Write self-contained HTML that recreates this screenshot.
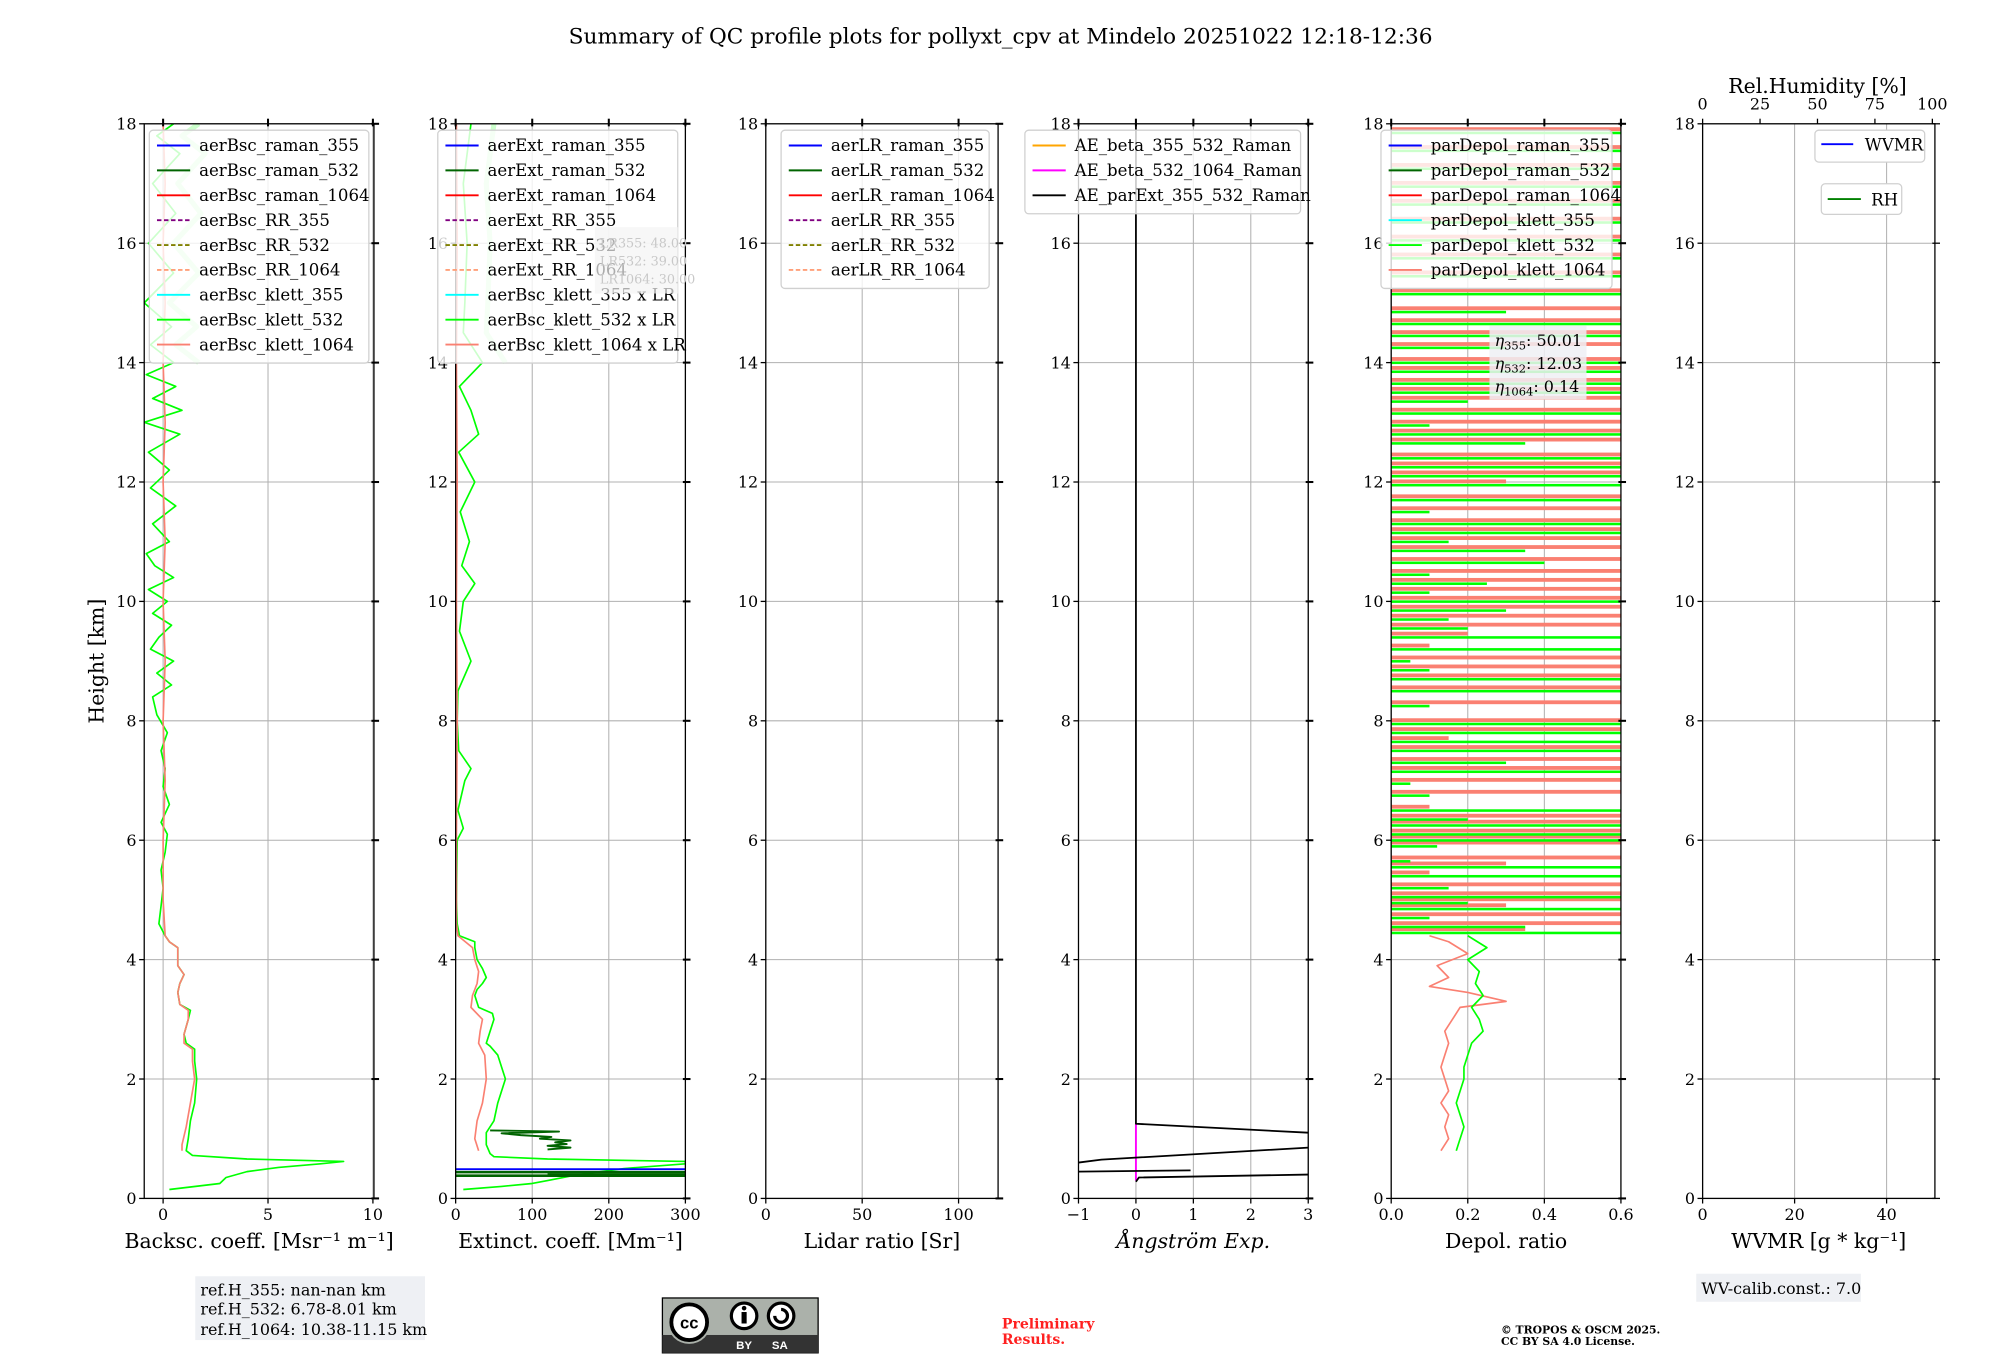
<!DOCTYPE html>
<html><head><meta charset="utf-8"><style>
html,body{margin:0;padding:0;background:#fff;}
svg{display:block;font-family:"DejaVu Serif","Liberation Serif",serif;}
</style></head><body>
<svg id="fig" xmlns="http://www.w3.org/2000/svg" width="2000" height="1360" viewBox="0 0 1567 1065.6" preserveAspectRatio="none">
<text x="784" y="34" font-size="17" text-anchor="middle">Summary of QC profile plots for pollyxt_cpv at Mindelo 20251022 12:18-12:36</text>
<text transform="translate(81,518) rotate(-90)" font-size="16" text-anchor="middle">Height [km]</text>
<g id="plots"></g>
<g>
<rect x="153" y="1000" width="180" height="50" fill="#eef0f4"/>
<text x="157" y="1015" font-size="12.5">ref.H_355: nan-nan km</text>
<text x="157" y="1030" font-size="12.5">ref.H_532: 6.78-8.01 km</text>
<text x="157" y="1046" font-size="12.5">ref.H_1064: 10.38-11.15 km</text>
</g>
<g>
<rect x="519" y="1017" width="122" height="43" fill="#abb1aa" stroke="#000" stroke-width="1"/>
<rect x="519" y="1046" width="122" height="14" fill="#333"/>
<circle cx="540" cy="1036" r="17" fill="#abb1aa"/>
<circle cx="540" cy="1036" r="14" fill="#fff" stroke="#000" stroke-width="3"/>
<text x="540" y="1041" font-size="13" font-weight="bold" text-anchor="middle" font-family="Liberation Sans,sans-serif">cc</text>
<circle cx="583" cy="1031" r="10" fill="#fff" stroke="#000" stroke-width="2.5"/>
<rect x="581" y="1028" width="4" height="9" fill="#000"/><circle cx="583" cy="1025" r="1.8" fill="#000"/>
<circle cx="612" cy="1031" r="10" fill="#fff" stroke="#000" stroke-width="2.5"/>
<path d="M607 1031 a5 5 0 1 0 5 -5" fill="none" stroke="#000" stroke-width="2.5"/>
<text x="583" y="1057" font-size="9" fill="#fff" font-weight="bold" text-anchor="middle" font-family="Liberation Sans,sans-serif">BY</text>
<text x="611" y="1057" font-size="9" fill="#fff" font-weight="bold" text-anchor="middle" font-family="Liberation Sans,sans-serif">SA</text>
</g>
<text x="785" y="1041" font-size="11" fill="#ff2020" font-weight="bold">Preliminary</text>
<text x="785" y="1053" font-size="11" fill="#ff2020" font-weight="bold">Results.</text>
<text x="1176" y="1045" font-size="8.5" font-weight="bold">© TROPOS &amp; OSCM 2025.</text>
<text x="1176" y="1054" font-size="8.5" font-weight="bold">CC BY SA 4.0 License.</text>
<g>
<rect x="1329" y="998" width="129" height="22" fill="#eef0f4"/>
<text x="1333" y="1014" font-size="12.5">WV-calib.const.: 7.0</text>
</g>
</svg>
<script>
// ---------- data ----------
const heightTicks=[0,2,4,6,8,10,12,14,16,18];
const bsc532H=[0.15,0.25,0.35,0.45,0.52,0.58,0.62,0.66,0.72,0.8,1.0,1.3,1.6,2.0,2.3,2.5,2.6,2.75,3.0,3.15,3.25,3.45,3.6,3.75,3.9,4.0,4.2,4.3,4.4,4.6,4.9,5.2,5.5,5.8,6.1,6.3,6.6,6.9,7.2,7.5,7.8,8.1,8.4,8.6,8.8,9.0,9.2,9.4,9.6,9.8,10.0,10.2,10.4,10.6,10.8,11.0,11.3,11.6,11.9,12.2,12.5,12.8,13.0,13.2,13.4,13.6,13.8,14.0,14.3,14.6,15.0,15.5,16.0,16.5,17.0,17.5,17.8,18.0];
const bsc532V=[0.3,2.7,3.0,4.0,5.5,7.5,8.6,4.0,1.4,1.1,1.2,1.3,1.5,1.6,1.5,1.5,1.1,1.0,1.2,1.3,0.8,0.7,0.8,1.0,0.7,0.7,0.7,0.3,0.1,-0.2,-0.1,0.0,-0.1,0.1,0.2,-0.1,0.3,0.0,0.1,-0.1,0.2,-0.3,-0.5,0.4,-0.3,0.5,-0.6,-0.2,0.4,-0.5,0.2,-0.7,0.5,-0.4,-0.8,0.3,-0.5,0.6,-0.6,0.3,-0.7,0.8,-0.9,0.9,-0.5,0.6,-0.8,0.5,-0.6,0.4,-0.9,0.5,-0.7,0.6,-0.5,0.8,-0.3,0.5];
const bsc1064H=[0.8,0.9,1.2,1.6,2.0,2.3,2.5,2.6,2.75,3.0,3.15,3.25,3.45,3.6,3.75,3.9,4.2,4.3,4.4,5,6,7,8,9,10,11,12,13,14,15,16,17,18];
const bsc1064V=[0.9,0.9,1.1,1.3,1.5,1.4,1.4,1.0,1.0,1.2,1.2,0.8,0.7,0.8,1.0,0.7,0.7,0.3,0.1,0.0,0.0,0.1,0.0,0.1,0.0,0.1,0.0,0.1,0.0,0.1,0.0,0.1,0.0];
const ext532H=[0.15,0.2,0.25,0.3,0.4,0.5,0.58,0.62,0.66,0.7,0.75,0.9,1.1,1.3,1.6,2.0,2.2,2.4,2.55,2.6,2.8,3.0,3.1,3.2,3.4,3.5,3.6,3.7,3.85,4.0,4.2,4.3,4.4,4.6,5,6.0,6.2,6.5,7.0,7.2,7.5,8.0,8.5,9.0,9.5,10.0,10.3,10.6,11.0,11.5,12.0,12.5,12.8,13.2,13.6,14.0,14.5,15,16,17,18];
const ext532V=[10,60,100,120,160,220,300,300,120,50,45,40,40,50,55,65,60,55,45,40,45,50,48,30,25,28,35,40,35,28,25,25,5,2,1,2,10,3,12,20,4,2,3,20,5,10,25,8,18,6,25,4,30,20,5,35,10,12,15,10,20];
const ext1064H=[0.8,1.0,1.3,1.6,2.0,2.4,2.6,2.8,3.0,3.2,3.4,3.6,3.8,4.0,4.2,4.4,4.6,6,8,10,12,14,16,18];
const ext1064V=[30,25,28,35,40,38,30,32,35,20,22,28,30,25,22,3,1,1,2,1,2,1,2,1];
const extRaman532H=[0.82,0.85,0.88,0.91,0.94,0.97,1.0,1.03,1.06,1.09,1.12,1.14];
const extRaman532V=[120,150,120,145,130,150,110,125,85,60,135,45];
const aeSeg1H=[0.28,0.35,0.4], aeSeg1V=[0,0.05,3.0];
const aeSeg2H=[0.45,0.47], aeSeg2V=[-1,0.95];
const aeSeg3H=[0.6,0.65,0.85], aeSeg3V=[-1,-0.6,3.0];
const aeSeg4H=[18,1.25,1.1], aeSeg4V=[0,0,3.0];
const dep532H=[0.8,1.0,1.2,1.4,1.6,1.8,2.0,2.2,2.4,2.6,2.8,3.0,3.2,3.4,3.6,3.8,4.0,4.2,4.4];
const dep532V=[0.17,0.18,0.19,0.18,0.17,0.18,0.19,0.19,0.2,0.21,0.24,0.23,0.21,0.24,0.22,0.23,0.2,0.25,0.2];
const dep1064H=[0.8,1.0,1.2,1.4,1.6,1.8,2.0,2.2,2.4,2.6,2.8,3.0,3.2,3.3,3.45,3.55,3.7,3.9,4.1,4.3,4.4];
const dep1064V=[0.13,0.15,0.14,0.15,0.13,0.15,0.14,0.13,0.14,0.15,0.14,0.16,0.18,0.3,0.2,0.1,0.15,0.12,0.2,0.15,0.1];
const depNoiseH=[4.5,4.6,4.75,4.9,5.0,5.1,5.25,5.45,5.6,5.7,5.95,6.05,6.15,6.3,6.4,6.55,6.8,7.0,7.2,7.35,7.55,7.7,7.85,8.0,8.3,8.55,8.75,8.9,9.05,9.25,9.45,9.6,9.75,9.9,10.05,10.2,10.35,10.5,10.7,10.9,11.05,11.2,11.35,11.55,11.75,12.0,12.15,12.3,12.45,12.7,12.85,13.0,13.2,13.4,13.55,13.7,13.9,14.05,14.3,14.5,14.7,14.9,15.2,15.5,15.8,16.1,16.4,16.7,17.0,17.3,17.6,17.9];
const depNoise532V=[0.6,0.35,0.1,0.6,0.2,0.6,0.15,0.6,0.6,0.05,0.12,0.6,0.6,0.6,0.2,0.6,0.1,0.05,0.6,0.3,0.6,0.6,0.6,0.6,0.1,0.6,0.6,0.1,0.05,0.6,0.6,0.2,0.15,0.3,0.6,0.1,0.25,0.1,0.4,0.35,0.15,0.6,0.6,0.1,0.6,0.6,0.6,0.6,0.6,0.35,0.6,0.1,0.6,0.2,0.6,0.6,0.6,0.6,0.3,0.6,0.6,0.3,0.6,0.6,0.6,0.6,0.6,0.6,0.6,0.6,0.6,0.6];
const depNoise1064V=[0.35,0.6,0.6,0.3,0.6,0.6,0.6,0.1,0.3,0.6,0.6,0.6,0.6,0.6,0.6,0.1,0.6,0.6,0.6,0.6,0.6,0.15,0.6,0.6,0.6,0.6,0.6,0.6,0.6,0.1,0.2,0.6,0.6,0.6,0.6,0.6,0.6,0.6,0.6,0.6,0.6,0.6,0.6,0.6,0.6,0.3,0.6,0.6,0.6,0.6,0.6,0.6,0.6,0.6,0.6,0.6,0.6,0.6,0.6,0.6,0.6,0.6,0.6,0.6,0.6,0.6,0.6,0.6,0.6,0.6,0.6,0.6];
const panelNames=['backscatter','extinction','lidar-ratio','angstrom','depol','wvmr'];
const xMins=[-0.9,0,0,-1,0,0], xMaxs=[10.05,300,120.5,3,0.6,50.5];
const xTickVals=[[0,5,10],[0,100,200,300],[0,50,100],[-1,0,1,2,3],[0,0.2,0.4,0.6],[0,20,40]];
const xTickLabels=[['0','5','10'],['0','100','200','300'],['0','50','100'],['−1','0','1','2','3'],['0.0','0.2','0.4','0.6'],['0','20','40']];
const xTitles=['Backsc. coeff. [Msr⁻¹ m⁻¹]','Extinct. coeff. [Mm⁻¹]','Lidar ratio [Sr]','Ångström Exp.','Depol. ratio','WVMR [g * kg⁻¹]'];
const rhTicks=[0,25,50,75,100];
const legendEntries=[
 [['aerBsc_raman_355','#0000ff',0],['aerBsc_raman_532','#006400',0],['aerBsc_raman_1064','#ff0000',0],['aerBsc_RR_355','#800080',1],['aerBsc_RR_532','#808000',1],['aerBsc_RR_1064','#ffa07a',1],['aerBsc_klett_355','#00ffff',0],['aerBsc_klett_532','#00ff00',0],['aerBsc_klett_1064','#fa8072',0]],
 [['aerExt_raman_355','#0000ff',0],['aerExt_raman_532','#006400',0],['aerExt_raman_1064','#ff0000',0],['aerExt_RR_355','#800080',1],['aerExt_RR_532','#808000',1],['aerExt_RR_1064','#ffa07a',1],['aerBsc_klett_355 x LR','#00ffff',0],['aerBsc_klett_532 x LR','#00ff00',0],['aerBsc_klett_1064 x LR','#fa8072',0]],
 [['aerLR_raman_355','#0000ff',0],['aerLR_raman_532','#006400',0],['aerLR_raman_1064','#ff0000',0],['aerLR_RR_355','#800080',1],['aerLR_RR_532','#808000',1],['aerLR_RR_1064','#ffa07a',1]],
 [['AE_beta_355_532_Raman','#ffa500',0],['AE_beta_532_1064_Raman','#ff00ff',0],['AE_parExt_355_532_Raman','#000000',0]],
 [['parDepol_raman_355','#0000ff',0],['parDepol_raman_532','#006400',0],['parDepol_raman_1064','#ff0000',0],['parDepol_klett_355','#00ffff',0],['parDepol_klett_532','#00ff00',0],['parDepol_klett_1064','#fa8072',0]]
];
const NS='http://www.w3.org/2000/svg';
const root=document.getElementById('plots');
const panelLeft=[113,357,600,845,1090,1334], panelW=[180,180,182,180,180,182];
const TOP=97,BOT=939;
function yS(h){return BOT-(h/18)*(BOT-TOP);}
function mk(tag,parent){const e=document.createElementNS(NS,tag);parent.appendChild(e);return e;}
function xS(p,v){return panelLeft[p]+(v-xMins[p])/(xMaxs[p]-xMins[p])*panelW[p];}
function clipX(p,v){return Math.max(xMins[p],Math.min(xMaxs[p],v));}
function line(g,p,H,V,col,w,name){
  const pl=mk('polyline',g);
  
  
  pl.setAttribute('points',H.map((h,i)=>xS(p,clipX(p,V[i])).toFixed(1)+','+yS(h).toFixed(1)).join(' '));
  pl.setAttribute('fill','none');pl.setAttribute('stroke',col);pl.setAttribute('stroke-width',w);
  pl.setAttribute('stroke-linejoin','round');
  return pl;
}
function txt(g,x,y,s,size,anchor,fill){const t=mk('text',g);t.setAttribute('x',x);t.setAttribute('y',y);t.setAttribute('font-size',size);if(anchor)t.setAttribute('text-anchor',anchor);if(fill)t.setAttribute('fill',fill);t.textContent=s;return t;}

for(let p=0;p<6;p++){
  const g=mk('g',root);
  
  
  const L=panelLeft[p],R=L+panelW[p];
  const cp=mk('clipPath',g);cp.setAttribute('id','clip'+p);
  const cr=mk('rect',cp);cr.setAttribute('x',L);cr.setAttribute('y',TOP);cr.setAttribute('width',panelW[p]);cr.setAttribute('height',BOT-TOP);
  heightTicks.forEach(h=>{const l=mk('line',g);l.setAttribute('x1',L);l.setAttribute('x2',R);l.setAttribute('y1',yS(h));l.setAttribute('y2',yS(h));l.setAttribute('stroke','#b0b0b0');l.setAttribute('stroke-width',0.8);});
  xTickVals[p].forEach(v=>{const x=xS(p,v);const l=mk('line',g);l.setAttribute('x1',x);l.setAttribute('x2',x);l.setAttribute('y1',TOP);l.setAttribute('y2',BOT);l.setAttribute('stroke','#b0b0b0');l.setAttribute('stroke-width',0.8);});
  const data=mk('g',g);data.setAttribute('clip-path','url(#clip'+p+')');
  
  
  if(p===0){
    const hi=bsc532H.map((h,i)=>i).filter(i=>bsc532H[i]>=14);
    line(data,0,hi.map(i=>bsc532H[i]),hi.map(i=>bsc532V[i]+1.2),'#ccffcc',4,'bsc-upper-shade');
    line(data,0,bsc532H,bsc532V,'#00ff00',1.3,'bsc-klett-532');
    line(data,0,bsc1064H,bsc1064V,'#fa8072',1.3,'bsc-klett-1064');
  }
  if(p===1){
    const hi=ext532H.map((h,i)=>i).filter(i=>ext532H[i]>=14);
    line(data,1,hi.map(i=>ext532H[i]),hi.map(i=>ext532V[i]+30),'#ccffcc',4,'ext-upper-shade');
    line(data,1,ext532H,ext532V,'#00ff00',1.3,'ext-klett-532');
    line(data,1,ext1064H,ext1064V,'#fa8072',1.3,'ext-klett-1064');
    line(data,1,extRaman532H,extRaman532V,'#006400',1.5,'ext-raman-532');
    line(data,1,[0.38,0.38,0.4,0.4],[0,300,300,120],'#006400',2,'ext-raman-532-low');
    line(data,1,[0.44,0.44,0.46],[0,300,300],'#006400',2,'ext-raman-532-low2');
    line(data,1,[0.49,0.49],[0,300],'#0000ff',1.5,'ext-raman-355');
  }
  if(p===3){
    line(data,3,[0.3,1.25],[0,0],'#ff00ff',1.5,'ae-beta-532-1064');
    line(data,3,aeSeg1H,aeSeg1V,'#000',1.4,'ae-parext-seg1');
    line(data,3,aeSeg2H,aeSeg2V,'#000',1.4,'ae-parext-seg2');
    line(data,3,aeSeg3H,aeSeg3V,'#000',1.4,'ae-parext-seg3');
    line(data,3,aeSeg4H,aeSeg4V,'#000',1.4,'ae-parext-seg4');
  }
  if(p===4){
    depNoiseH.forEach((h,i)=>{
      const r=mk('rect',data);
      
      
      r.setAttribute('x',xS(4,0));r.setAttribute('y',yS(h)-2);r.setAttribute('width',xS(4,depNoise1064V[i])-xS(4,0));r.setAttribute('height',3);r.setAttribute('fill','#fa8072');
      const r2=mk('rect',data);
      
      
      r2.setAttribute('x',xS(4,0));r2.setAttribute('y',yS(h)+1.5);r2.setAttribute('width',xS(4,depNoise532V[i])-xS(4,0));r2.setAttribute('height',2);r2.setAttribute('fill','#00ff00');
    });
    line(data,4,dep1064H,dep1064V,'#fa8072',1.3,'depol-klett-1064');
    line(data,4,dep532H,dep532V,'#00ff00',1.3,'depol-klett-532');
  }
  const fr=mk('rect',g);fr.setAttribute('x',L);fr.setAttribute('y',TOP);fr.setAttribute('width',panelW[p]);fr.setAttribute('height',BOT-TOP);fr.setAttribute('fill','none');fr.setAttribute('stroke','#000');fr.setAttribute('stroke-width',1);
  heightTicks.forEach(h=>{
    const y=yS(h);
    const a=mk('line',g);a.setAttribute('x1',L-4);a.setAttribute('x2',L);a.setAttribute('y1',y);a.setAttribute('y2',y);a.setAttribute('stroke','#000');
    const b=mk('line',g);b.setAttribute('x1',R-2);b.setAttribute('x2',R+4);b.setAttribute('y1',y);b.setAttribute('y2',y);b.setAttribute('stroke','#000');b.setAttribute('stroke-width',p<5?1.6:1);
    const t=txt(g,L-6,y+4.5,String(h),12.5,'end');
    
    
  });
  xTickVals[p].forEach((v,i)=>{
    const x=xS(p,v);
    const a=mk('line',g);a.setAttribute('x1',x);a.setAttribute('x2',x);a.setAttribute('y1',BOT);a.setAttribute('y2',BOT+4);a.setAttribute('stroke','#000');
    if(p!==5){const b=mk('line',g);b.setAttribute('x1',x);b.setAttribute('x2',x);b.setAttribute('y1',TOP-4);b.setAttribute('y2',TOP+2);b.setAttribute('stroke','#000');b.setAttribute('stroke-width',1.6);}
    const t=txt(g,x,BOT+17,xTickLabels[p][i],12.5,'middle');
    
    
  });
  const xt=txt(g,(L+R)/2,BOT+39,xTitles[p],16,'middle');
  
  
  if(p===3) xt.setAttribute('font-style','italic');
  if(p===5){
    rhTicks.forEach(v=>{
      const x=L+v/100*180;
      const a=mk('line',g);a.setAttribute('x1',x);a.setAttribute('x2',x);a.setAttribute('y1',TOP-4);a.setAttribute('y2',TOP);a.setAttribute('stroke','#000');
      const t=txt(g,x,TOP-11,String(v),12.5,'middle');
      
      
    });
    const rt=txt(g,(L+R)/2-1,TOP-24,'Rel.Humidity [%]',16,'middle');
    
    
  }
  if(p<5){
    const ent=legendEntries[p];
    const lx=[117,343,612,803,1082][p], lw=[172,188,163,216,181][p];
    const lg=mk('g',g);
    
    
    const box=mk('rect',lg);box.setAttribute('x',lx);box.setAttribute('y',102);box.setAttribute('width',lw);box.setAttribute('height',ent.length*19.5+7);box.setAttribute('rx',3);box.setAttribute('fill','#fff');box.setAttribute('fill-opacity',0.8);box.setAttribute('stroke','#d0d0d0');
    ent.forEach((e,i)=>{
      const y=114+i*19.5;
      const ln=mk('line',lg);ln.setAttribute('x1',lx+6);ln.setAttribute('x2',lx+32);ln.setAttribute('y1',y);ln.setAttribute('y2',y);ln.setAttribute('stroke',e[1]);ln.setAttribute('stroke-width',1.5);
      if(e[2])ln.setAttribute('stroke-dasharray','3.5,2');
      const t=txt(lg,lx+39,y+4.5,e[0],13);
      
      
    });
  }
}
(function(){
  const g=mk('g',root);
  
  
  let r=mk('rect',g);r.setAttribute('x',1422);r.setAttribute('y',102);r.setAttribute('width',86);r.setAttribute('height',25);r.setAttribute('rx',3);r.setAttribute('fill','#fff');r.setAttribute('stroke','#d0d0d0');
  let l=mk('line',g);l.setAttribute('x1',1427);l.setAttribute('x2',1452);l.setAttribute('y1',113);l.setAttribute('y2',113);l.setAttribute('stroke','#0000ff');l.setAttribute('stroke-width',1.5);
  let t=txt(g,1461,118,'WVMR',13);
  
  
  r=mk('rect',g);r.setAttribute('x',1427);r.setAttribute('y',144);r.setAttribute('width',63);r.setAttribute('height',24);r.setAttribute('rx',3);r.setAttribute('fill','#fff');r.setAttribute('stroke','#d0d0d0');
  l=mk('line',g);l.setAttribute('x1',1432);l.setAttribute('x2',1458);l.setAttribute('y1',156);l.setAttribute('y2',156);l.setAttribute('stroke','#008000');l.setAttribute('stroke-width',1.5);
  t=txt(g,1466,161,'RH',13);
  
  
  const e=mk('g',root);
  
  
  r=mk('rect',e);r.setAttribute('x',1167);r.setAttribute('y',255);r.setAttribute('width',76);r.setAttribute('height',58);r.setAttribute('fill','#eef0f4');r.setAttribute('fill-opacity',0.85);
  ['355: 50.01','532: 12.03','1064: 0.14'].forEach((s,i)=>{
    const tt=mk('text',e);tt.setAttribute('x',1171);tt.setAttribute('y',271+i*18);tt.setAttribute('font-size',12.5);
    const a=mk('tspan',tt);a.setAttribute('font-style','italic');a.textContent='η';
    const parts=s.split(':');
    const b=mk('tspan',tt);b.setAttribute('font-size',9);b.setAttribute('dy',3);b.textContent=parts[0];
    const c=mk('tspan',tt);c.setAttribute('dy',-3);c.textContent=':'+parts[1];
  });
  const lr=mk('g',root);
  
  
  r=mk('rect',lr);r.setAttribute('x',466);r.setAttribute('y',178);r.setAttribute('width',66);r.setAttribute('height',52);r.setAttribute('fill','#f4f4f4');r.setAttribute('fill-opacity',0.7);
  ['LR355: 48.00','LR532: 39.00','LR1064: 30.00'].forEach((s,i)=>{txt(lr,470,194+i*14,s,10,null,'#c8c8c8');});
})();
</script>
</body></html>
